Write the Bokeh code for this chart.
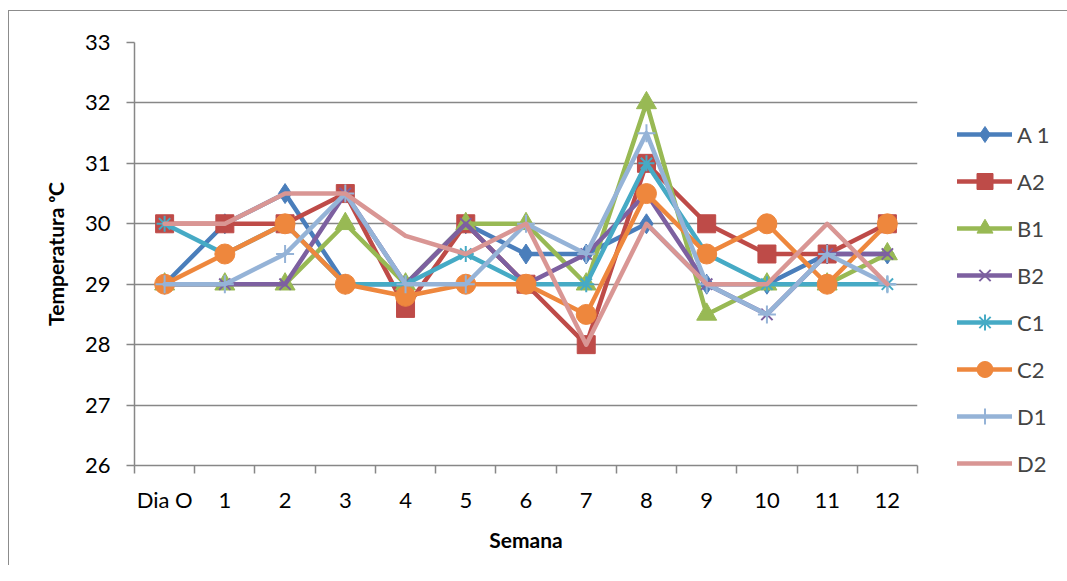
from bokeh.plotting import figure
from bokeh.models import FixedTicker, Legend, LegendItem, ColumnDataSource
from bokeh.embed import file_html
from bokeh.resources import INLINE

categories = ["Dia O", "1", "2", "3", "4", "5", "6", "7", "8", "9", "10", "11", "12"]
A1 = [29, 30, 30.5, 29, 29, 30, 29.5, 29.5, 30, 29, 29, 29.5, 29.5]
A2 = [30, 30, 30, 30.5, 28.6, 30, 29, 28, 31, 30, 29.5, 29.5, 30]
B1 = [29, 29, 29, 30, 29, 30, 30, 29, 32, 28.5, 29, 29, 29.5]
B2 = [29, 29, 29, 30.5, 29, 30, 29, 29.5, 30.5, 29, 28.5, 29.5, 29.5]
C1 = [30, 29.5, 30, 29, 29, 29.5, 29, 29, 31, 29.5, 29, 29, 29]
C2 = [29, 29.5, 30, 29, 28.8, 29, 29, 28.5, 30.5, 29.5, 30, 29, 30]
D1 = [29, 29, 29.5, 30.5, 29, 29, 30, 29.5, 31.5, 29, 28.5, 29.5, 29]
D2 = [30, 30, 30.5, 30.5, 29.8, 29.5, 30, 28, 30, 29, 29, 30, 29]
series_names = ["A 1", "A2", "B1", "B2", "C1", "C2", "D1", "D2"]
series_values = [A1, A2, B1, B2, C1, C2, D1, D2]
colors = ["#4A7EBB", "#BE4B48", "#98B954", "#7D60A0", "#46AAC5", "#EE873D", "#95B3D7", "#D99694"]
markers = ["diamond", "square", "triangle", "x", "asterisk", "circle", "cross", None]
msizes = [20, 18, 20, 16, 16, 20, 18, 0]

xs = list(range(len(categories)))
FONT = "Lato"
FS = "22px"

p = figure(frame_width=783, frame_height=423, output_backend="svg", toolbar_location=None,
           x_range=(-0.5, len(categories) - 0.5), y_range=(26, 33),
           min_border_left=125, min_border_top=31, min_border_right=142, min_border_bottom=100)
p.styles = {"margin-left": "8px", "margin-top": "10px",
            "border-left": "1px solid #8c8c8c", "border-top": "1px solid #8c8c8c"}
p.outline_line_color = None
p.background_fill_color = "white"
p.border_fill_color = "white"

p.xgrid.visible = False
p.ygrid.grid_line_color = "#878787"
p.ygrid.grid_line_width = 1.5
p.yaxis.ticker = FixedTicker(ticks=list(range(26, 34)))
p.xaxis.ticker = FixedTicker(ticks=xs, minor_ticks=[x - 0.5 for x in xs] + [xs[-1] + 0.5])
p.xaxis.major_label_overrides = {i: c for i, c in enumerate(categories)}

for ax in (p.xaxis[0], p.yaxis[0]):
    ax.axis_line_color = "#878787"
    ax.axis_line_width = 1.5
    ax.major_label_text_font = FONT
    ax.major_label_text_font_size = FS
    ax.major_label_text_color = "black"
    ax.axis_label_text_font = FONT
    ax.axis_label_text_font_size = "21px"
    ax.axis_label_text_font_style = "bold"
    ax.axis_label_text_color = "black"

p.yaxis.major_tick_line_color = "#878787"
p.yaxis.major_tick_line_width = 1.5
p.yaxis.major_tick_out = 8
p.yaxis.major_tick_in = 0
p.yaxis.minor_tick_line_color = None
p.yaxis.major_label_standoff = 16
p.yaxis.axis_label = "Temperatura \u1d52C"
p.yaxis.axis_label_standoff = 14

p.xaxis.major_tick_out = 0
p.xaxis.major_tick_in = 0
p.xaxis.major_tick_line_color = None
p.xaxis.minor_tick_line_color = "#878787"
p.xaxis.minor_tick_line_width = 1.5
p.xaxis.minor_tick_out = 8
p.xaxis.minor_tick_in = 0
p.xaxis.major_label_standoff = 12
p.xaxis.axis_label = "Semana"
p.xaxis.axis_label_standoff = 11

items = []
for name, vals, col, mk, ms in zip(series_names, series_values, colors, markers, msizes):
    src = ColumnDataSource(dict(x=xs, y=vals))
    rs = [p.line("x", "y", source=src, line_color=col, line_width=4.5, line_join="round", line_cap="round")]
    if mk is not None:
        if mk in ("x", "asterisk", "cross"):
            rs.append(p.scatter("x", "y", source=src, marker=mk, size=ms, line_color=col, line_width=2))
        else:
            rs.append(p.scatter("x", "y", source=src, marker=mk, size=ms, fill_color=col, line_color=col))
    items.append(LegendItem(label=name, renderers=rs))

legend = Legend(items=items, location=(40, -18), glyph_width=55, glyph_height=40,
                spacing=7, label_standoff=5, padding=0, margin=0,
                label_text_font=FONT, label_text_font_size=FS,
                background_fill_alpha=0, border_line_color=None)
p.add_layout(legend, "right")

open("out.html", "w").write(file_html(p, INLINE))
